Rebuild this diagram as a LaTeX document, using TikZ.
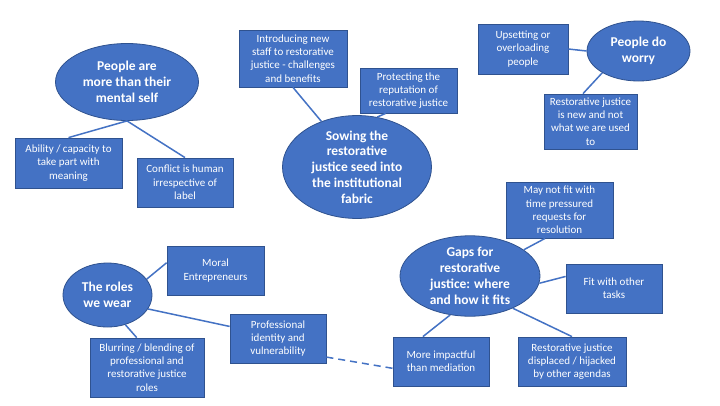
\documentclass[tikz,border=0pt]{standalone}
\usepackage{fontspec}
\setmainfont{Carlito}
\usetikzlibrary{shapes.geometric}
\definecolor{obl}{HTML}{4472C4}
\definecolor{obd}{HTML}{2F528F}
\begin{document}
\begin{tikzpicture}[x=1pt,y=-1pt,
 bx/.style={draw=obd,line width=0.8pt,fill=obl,text=white,inner sep=0pt,align=center,font=\fontsize{11}{13.3}\selectfont},
 el/.style={ellipse,draw=obd,line width=0.8pt,fill=obl,text=white,inner sep=0pt,align=center,font=\fontsize{13.5}{15.8}\selectfont\bfseries},
 ln/.style={draw=obl,line width=1.5pt}]
\fill[white] (0,0) rectangle (720,405);
\useasboundingbox (0,0) rectangle (720,405);

% ellipses
\node[el,minimum width=143pt,minimum height=77pt] (e1) at (127,82) {People are\\more than their\\mental self};
\node[el,minimum width=149pt,minimum height=90pt] (e2) at (357,167) {Sowing the\\restorative\\justice seed into\\the institutional\\fabric};
\node[el,minimum width=103pt,minimum height=60pt] (e3) at (638.5,51) {People do\\worry};
\node[el,minimum width=89pt,minimum height=64pt] (e4) at (107.5,295) {The roles\\we wear};
\node[el,minimum width=140pt,minimum height=74pt] (e5) at (470,276) {Gaps for\\restorative\\justice: where\\and how it fits};

% boxes
\node[bx,minimum width=107pt,minimum height=50pt] (b1) at (68.5,163) {Ability / capacity to\\take part with\\meaning};
\node[bx,minimum width=96pt,minimum height=49pt] (b2) at (185,182.5) {Conflict is human\\irrespective of\\label};
\node[bx,minimum width=108pt,minimum height=57pt] (b3) at (293,58.5) {Introducing new\\staff to restorative\\justice - challenges\\and benefits};
\node[bx,minimum width=97pt,minimum height=45pt] (b4) at (408.5,90.5) {Protecting the\\reputation of\\restorative justice};
\node[bx,minimum width=90pt,minimum height=50pt] (b5) at (523,49) {Upsetting or\\overloading\\people};
\node[bx,minimum width=93pt,minimum height=55pt] (b6) at (590.5,121.5) {Restorative justice\\is new and not\\what we are used\\to};
\node[bx,minimum width=97pt,minimum height=49pt] (b7) at (215.5,270.5) {Moral\\Entrepreneurs};
\node[bx,minimum width=96pt,minimum height=49pt] (b8) at (278,338.5) {Professional\\identity and\\vulnerability};
\node[bx,minimum width=114pt,minimum height=59pt] (b9) at (147,367.5) {Blurring / blending of\\professional and\\restorative justice\\roles};
\node[bx,minimum width=107pt,minimum height=56pt] (b10) at (559.5,210) {May not fit with\\time pressured\\requests for\\resolution};
\node[bx,minimum width=96pt,minimum height=49pt] (b11) at (614,288.5) {Fit with other\\tasks};
\node[bx,minimum width=96pt,minimum height=49pt] (b12) at (441,361.5) {More impactful\\than mediation};
\node[bx,minimum width=108pt,minimum height=49pt] (b13) at (572,361.5) {Restorative justice\\displaced / hijacked\\by other agendas};

% connectors
\draw[ln] (e1.south) -- (b1.north);
\draw[ln] (e1.south) -- (b2.north);
\draw[ln] (b3.south) -- (e2.128);
\draw[ln] (b4.-135) -- (e2.68);
\draw[ln] (b5.east) -- (e3.west);
\draw[ln] (b6.105) -- (e3.-149);
\draw[ln] (e4.22) -- (b7.171);
\draw[ln] (e4.-19) -- (b8.166.5);
\draw[ln] (e4.-59) -- (b9.109);
\draw[ln,dash pattern=on 7pt off 5pt] (b8.-21) -- (b12.-172);
\draw[ln] (e5.26) -- (b10.-117);
\draw[ln] (e5.-6) -- (b11.166);
\draw[ln] (e5.-117) -- (b12.126);
\draw[ln] (e5.-37) -- (b13.north);
\end{tikzpicture}
\end{document}
